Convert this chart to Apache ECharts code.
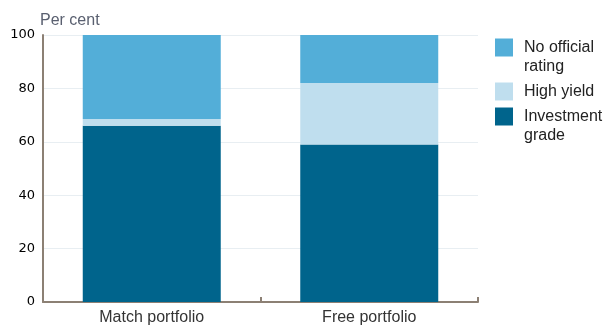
<!DOCTYPE html>
<html><head><meta charset="utf-8">
<script src="https://cdn.jsdelivr.net/npm/echarts@6/dist/echarts.min.js"></script>
<style>html,body{margin:0;padding:0;background:#fff}#c{width:606px;height:326px}</style>
</head><body><div id="c"></div>
<script>
const categories = ['Match portfolio', 'Free portfolio'];
const investmentGrade = [66, 59];
const highYield = [2.5, 23];
const noOfficialRating = [31.5, 18];
const yTicks = [0, 20, 40, 60, 80, 100];

const font = 'Liberation Sans, Arial, sans-serif';
const chart = echarts.init(document.getElementById('c'), null, {renderer: 'canvas'});
const labelText = {
  'No official rating': ' \nNo official\nrating',
  'High yield': 'High yield',
  'Investment grade': ' \nInvestment\ngrade'
};
function leg(name, top) {
  return {
    show: true, orient: 'vertical', left: 495, top: top,
    itemWidth: 18, itemHeight: 18, itemGap: 0, padding: 0,
    icon: 'rect', selectedMode: false,
    data: [name],
    formatter: n => labelText[n],
    textStyle: {fontFamily: font, fontSize: 16, color: '#222', lineHeight: 19, padding: [0, 0, 0, 6]}
  };
}
chart.setOption({
  animation: false,
  title: {text: 'Per cent', left: 40, top: 13, padding: 0,
    textStyle: {fontFamily: font, fontSize: 16, fontWeight: 'normal', color: '#5a6070'}},
  legend: [leg('No official rating', 19), leg('High yield', 82), leg('Investment grade', 88)],
  grid: {left: 43, right: 128, top: 35, bottom: 23, containLabel: false},
  xAxis: {
    type: 'category', data: categories,
    axisLine: {lineStyle: {color: '#8c8074', width: 2}},
    axisTick: {show: true, inside: true, length: 5, lineStyle: {color: '#8c8074', width: 2}},
    axisLabel: {fontFamily: font, fontSize: 16, color: '#333', margin: 8}
  },
  yAxis: {
    type: 'value', min: 0, max: 100, interval: 20,
    axisLine: {show: true, lineStyle: {color: '#8c8074', width: 2}},
    axisTick: {show: false},
    splitLine: {lineStyle: {color: '#e8eef2', width: 1}},
    axisLabel: {fontFamily: 'DejaVu Sans, sans-serif', fontSize: 13, color: '#000', margin: 8,
      formatter: v => yTicks.includes(v) ? String(v) : ''}
  },
  series: [
    {name: 'Investment grade', type: 'bar', stack: 's', barWidth: 138, data: investmentGrade, itemStyle: {color: '#00648c'}},
    {name: 'High yield', type: 'bar', stack: 's', data: highYield, itemStyle: {color: '#bfdeee'}},
    {name: 'No official rating', type: 'bar', stack: 's', data: noOfficialRating, itemStyle: {color: '#53aed8'}}
  ]
});
</script></body></html>
